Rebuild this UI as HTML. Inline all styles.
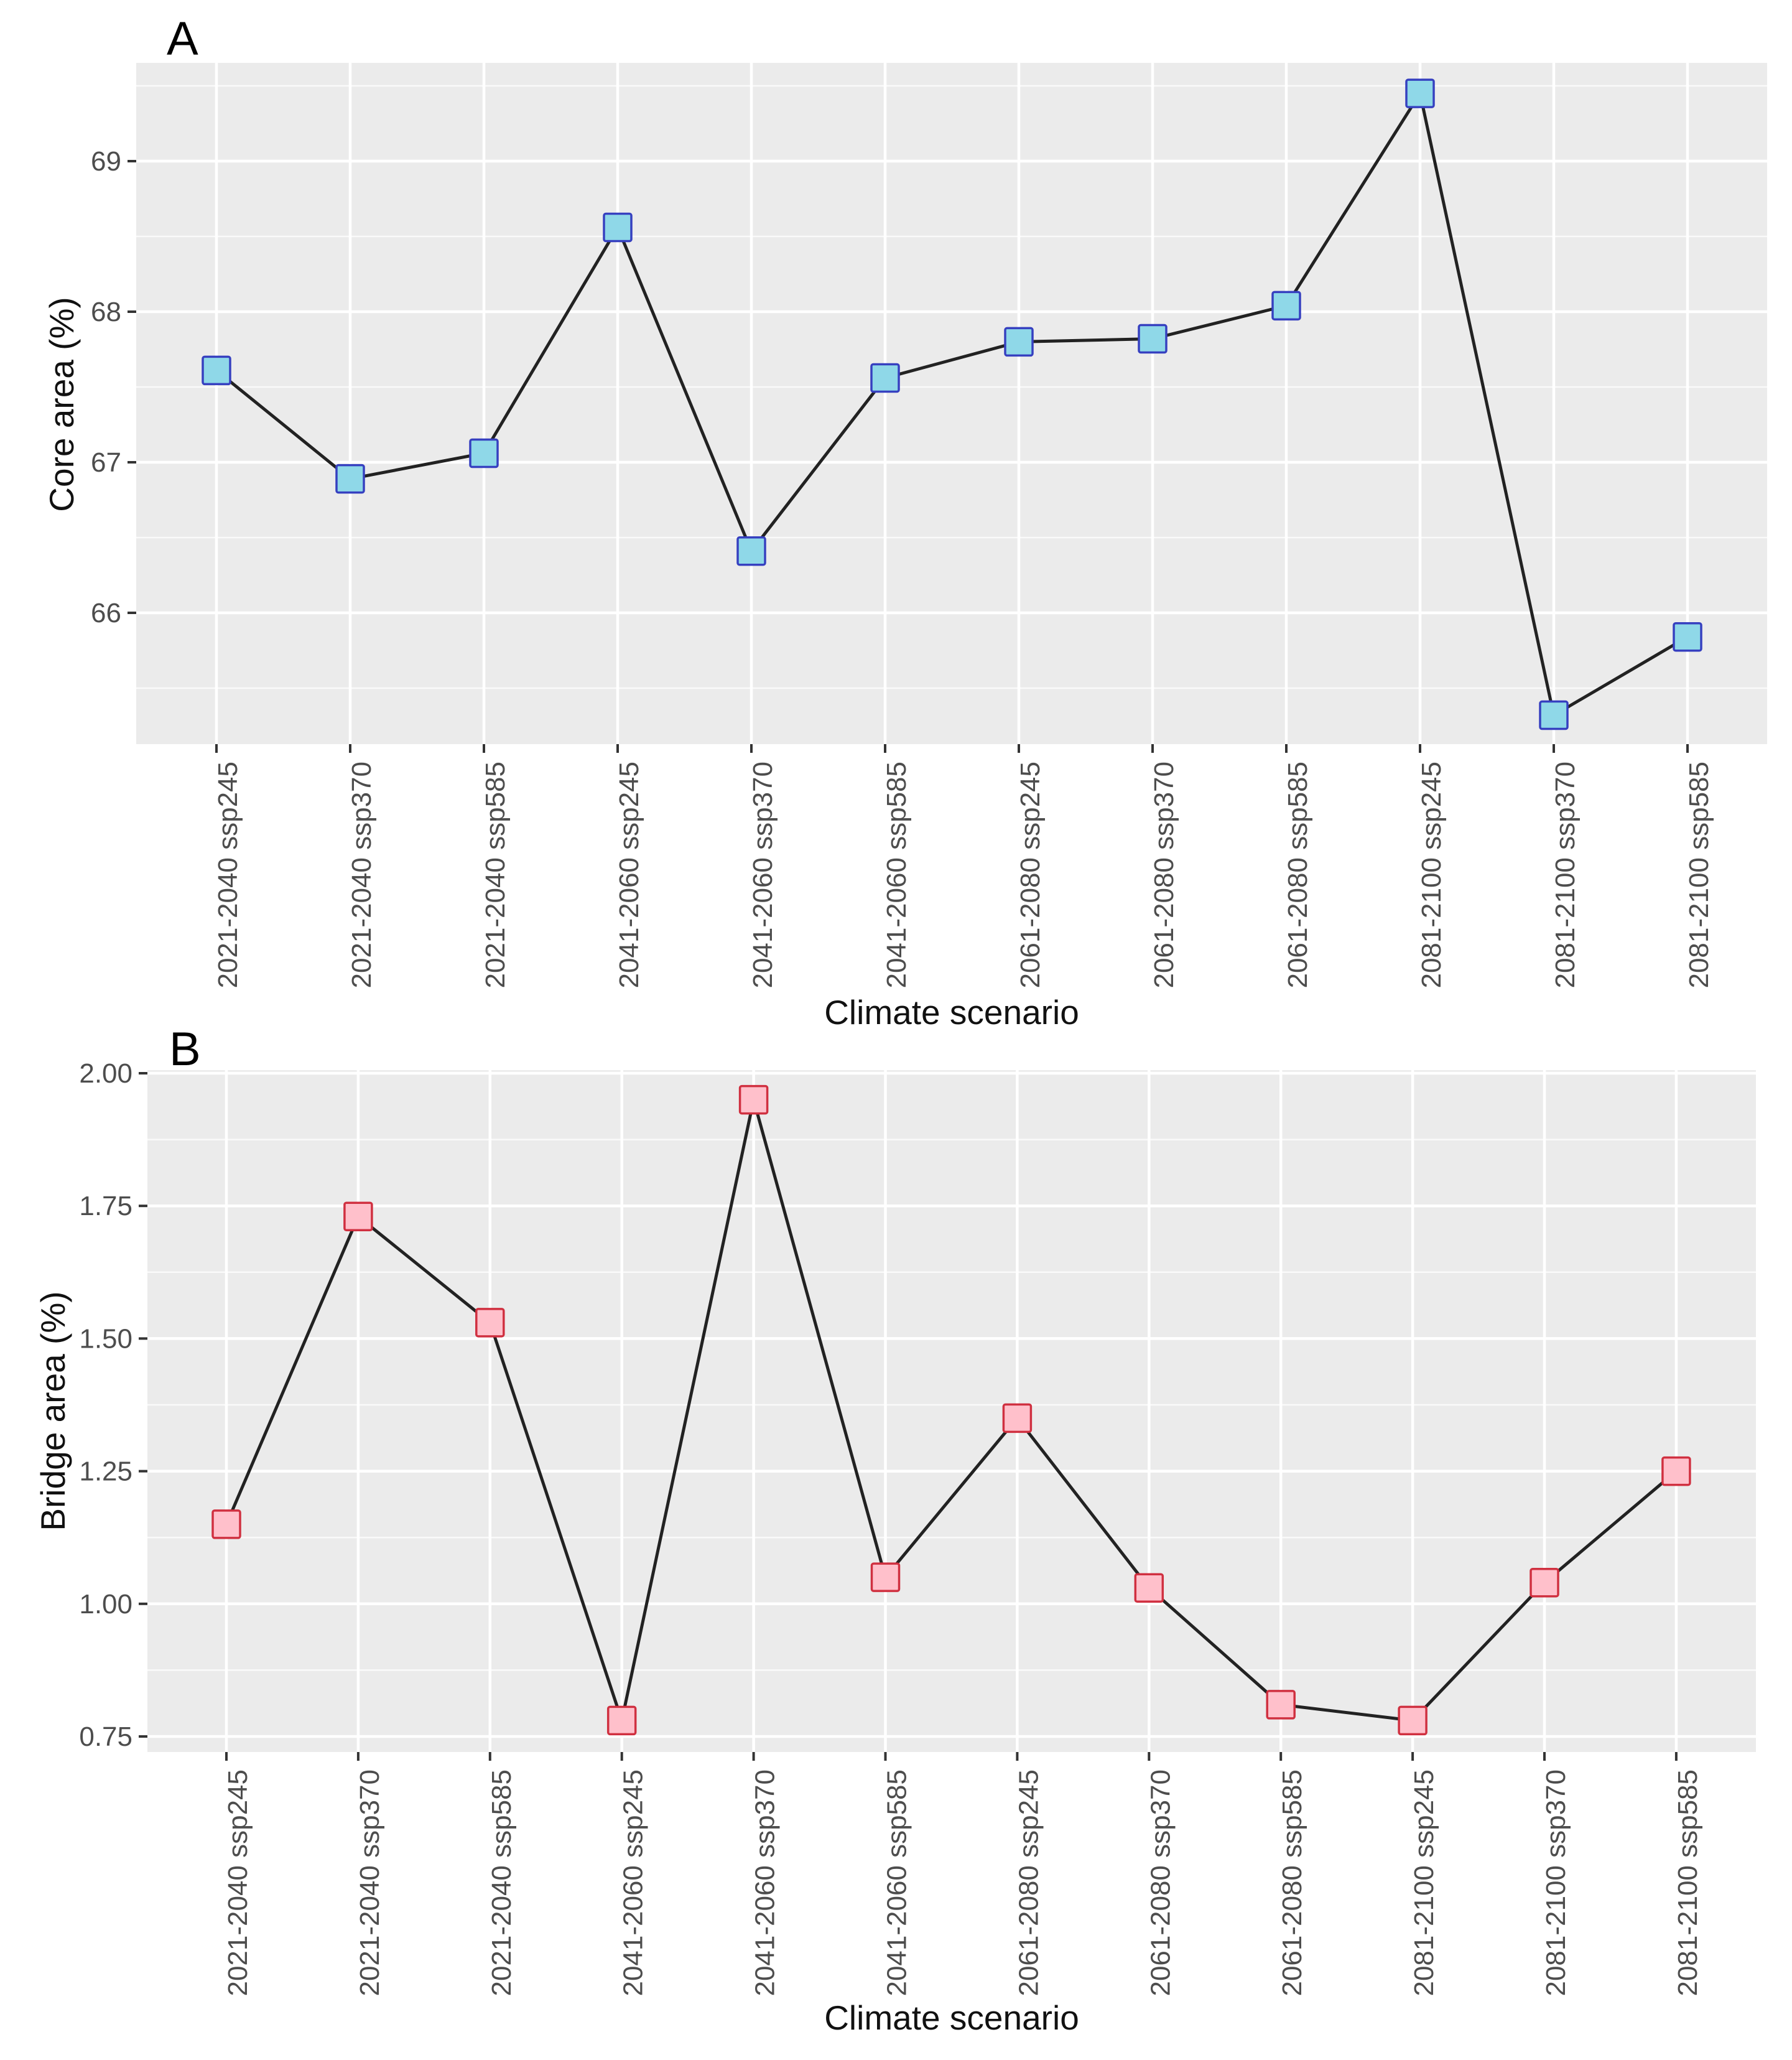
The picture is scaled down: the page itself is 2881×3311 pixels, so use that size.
<!DOCTYPE html>
<html><head><meta charset="utf-8"><style>
html,body{margin:0;padding:0;background:#fff;}
svg{display:block;font-family:"Liberation Sans",sans-serif;}
</style></head><body>
<svg id="chart" width="2881" height="3311" viewBox="0 0 2881 3311" xmlns="http://www.w3.org/2000/svg"></svg>
<script>
const categories = ["2021-2040 ssp245","2021-2040 ssp370","2021-2040 ssp585","2041-2060 ssp245","2041-2060 ssp370","2041-2060 ssp585","2061-2080 ssp245","2061-2080 ssp370","2061-2080 ssp585","2081-2100 ssp245","2081-2100 ssp370","2081-2100 ssp585"];
const coreValues = [67.61,66.89,67.06,68.56,66.41,67.56,67.80,67.82,68.04,69.45,65.32,65.84];
const bridgeValues = [1.15,1.73,1.53,0.78,1.95,1.05,1.35,1.03,0.81,0.78,1.04,1.25];
const coreTicks = [66,67,68,69];
const coreTickLabels = ["66","67","68","69"];
const bridgeTicks = [0.75,1.00,1.25,1.50,1.75,2.00];
const bridgeTickLabels = ["0.75","1.00","1.25","1.50","1.75","2.00"];

const NS = "http://www.w3.org/2000/svg";
const svg = document.getElementById("chart");
function mk(tag, attrs, parent){
  const e = document.createElementNS(NS, tag);
  for (const k in attrs) e.setAttribute(k, attrs[k]);
  (parent||svg).appendChild(e);
  return e;
}

function panel(cfg){
  const g = mk("g", {});
  
  
  const yScale = v => cfg.y0px + (v - cfg.v0) * (cfg.y1px - cfg.y0px) / (cfg.v1 - cfg.v0);
  const xScale = i => cfg.x0 + i * cfg.dx;
  const bg = mk("rect", {x:cfg.left, y:cfg.top, width:cfg.right-cfg.left, height:cfg.bottom-cfg.top, fill:"#ebebeb"}, g);
  
  
  const step = cfg.ticks[1]-cfg.ticks[0];
  for (let v = cfg.ticks[0]-step/2; v <= cfg.ticks[cfg.ticks.length-1]+step; v += step){
    const y = yScale(v);
    if (y < cfg.top || y > cfg.bottom) continue;
    const l = mk("line", {x1:cfg.left, x2:cfg.right, y1:y, y2:y, stroke:"#fafafa", "stroke-width":2.5}, g);
    
    
  }
  cfg.ticks.forEach((v, k) => {
    const y = yScale(v);
    const l = mk("line", {x1:cfg.left, x2:cfg.right, y1:y, y2:y, stroke:"#fff", "stroke-width":4.5}, g);
    
    
    const t = mk("line", {x1:cfg.left-14, x2:cfg.left, y1:y, y2:y, stroke:"#333", "stroke-width":4}, g);
    
    
    const tx = mk("text", {x:cfg.left-24, y:y+15, "text-anchor":"end", "font-size":44, fill:"#4d4d4d"}, g);
    tx.textContent = cfg.tickLabels[k];
    
    
  });
  categories.forEach((c, i) => {
    const x = xScale(i);
    const l = mk("line", {x1:x, x2:x, y1:cfg.top, y2:cfg.bottom, stroke:"#fff", "stroke-width":4.5}, g);
    
    
    const t = mk("line", {x1:x, x2:x, y1:cfg.bottom, y2:cfg.bottom+14, stroke:"#333", "stroke-width":4}, g);
    
    
    const tx = mk("text", {transform:`translate(${x+33},${cfg.bottom+28}) rotate(-90)`, "text-anchor":"end", "font-size":44, fill:"#4d4d4d"}, g);
    tx.textContent = c;
    
    
  });
  const pts = cfg.values.map((v,i) => xScale(i)+","+yScale(v)).join(" ");
  const pl = mk("polyline", {points:pts, fill:"none", stroke:"#222", "stroke-width":5, "stroke-linejoin":"round"}, g);
  
  
  cfg.values.forEach((v,i) => {
    const r = mk("rect", {x:xScale(i)-22, y:yScale(v)-22, width:44, height:44, rx:3, fill:cfg.fill, stroke:cfg.stroke, "stroke-width":3.5}, g);
    
    
  });
  const yt = mk("text", {transform:`translate(${cfg.ytX},${cfg.ytY}) rotate(-90)`, "text-anchor":"middle", "font-size":55, fill:"#111"}, g);
  yt.textContent = cfg.yTitle;
  
  
  const xt = mk("text", {x:1530, y:cfg.xtY, "text-anchor":"middle", "font-size":55, fill:"#111"}, g);
  xt.textContent = "Climate scenario";
  
  
  const lt = mk("text", {x:cfg.letterX, y:cfg.letterY, "font-size":76, fill:"#000"}, g);
  lt.textContent = cfg.letter;
  
  
}

panel({name:"panel-a-core-area", left:219, right:2841, top:101, bottom:1196,
  v0:66, v1:69, y0px:985, y1px:259, x0:348, dx:215,
  ticks:coreTicks, tickLabels:coreTickLabels, values:coreValues,
  fill:"#8fd8e8", stroke:"#3640c0", yTitle:"Core area (%)", ytX:118, ytY:650, xtY:1646,
  letter:"A", letterX:268, letterY:88});
panel({name:"panel-b-bridge-area", left:237, right:2823, top:1720, bottom:2816,
  v0:0.75, v1:2.00, y0px:2791, y1px:1725, x0:364, dx:211.9,
  ticks:bridgeTicks, tickLabels:bridgeTickLabels, values:bridgeValues,
  fill:"#ffc0cb", stroke:"#d03040", yTitle:"Bridge area (%)", ytX:104, ytY:2268, xtY:3262,
  letter:"B", letterX:272, letterY:1712});
</script>
</body></html>
